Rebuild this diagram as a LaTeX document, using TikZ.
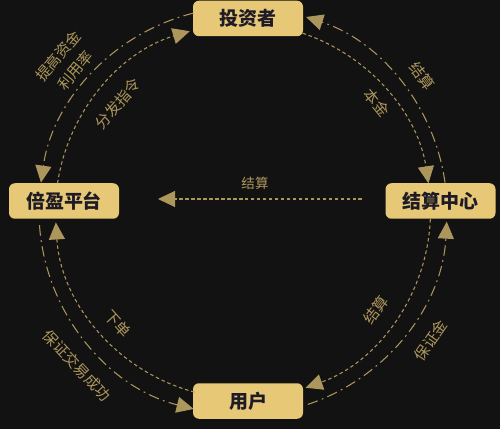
\documentclass[tikz,border=0pt]{standalone}
\usepackage{fontspec}
\newfontfamily\cjk{Noto Sans CJK SC}
\usetikzlibrary{arrows.meta}
\definecolor{bgdark}{HTML}{121212}
\definecolor{goldbox}{HTML}{E6C877}
\definecolor{goldline}{HTML}{AD965C}
\definecolor{inkdark}{HTML}{1E1B26}
\tikzset{
  box/.style={draw=none,fill=goldbox,rounded corners=3.4pt,minimum width=2.2cm,
    minimum height=0.71cm,inner sep=0pt,text=inkdark,
    font=\cjk\bfseries\fontsize{10.8}{13}\selectfont},
  lbl/.style={text=goldline,inner sep=0pt,align=center,
    font=\cjk\fontsize{8.6}{12.8}\selectfont},
  midlbl/.style={lbl,font=\cjk\fontsize{7.7}{10}\selectfont},
  tip/.style={-{Triangle[length=0.34cm,width=0.32cm]}},
  innerln/.style={tip,draw=goldline,fill=none,line width=0.6pt,
    dash pattern=on 2pt off 1.6pt},
  outerln/.style={tip,draw=goldline,fill=none,line width=0.6pt,
    dash pattern=on 6pt off 2.5pt on 1pt off 2.5pt},
  midln/.style={tip,draw=goldline,line width=0.6pt,dash pattern=on 2pt off 1.4pt}
}
\begin{document}
\begin{tikzpicture}
\fill[bgdark] (0,0) rectangle (10,8.58);
\useasboundingbox (0,0) rectangle (10,8.58);
\def\Ro{4.08}\def\Ri{3.75}
\coordinate (ctr) at (4.86,4.36);
% the four parties
\node[box] (investor) at (4.96,8.21) {投资者};
\node[box] (clearing) at (8.81,4.56) {结算中心};
\node[box] (platform) at (1.28,4.56) {倍盈平台};
\node[box] (user) at (4.96,0.56) {用户};
% start points on the two rings
\path (ctr) ++(104:\Ro) coordinate (inv-w)
      (ctr) ++(171.5:\Ri) coordinate (plat-n)
      (ctr) ++(71.5:\Ri) coordinate (inv-e)
      (ctr) ++(8:\Ro) coordinate (clr-n)
      (ctr) ++(-2.5:\Ri) coordinate (clr-s)
      (ctr) ++(-71.5:\Ro) coordinate (user-e)
      (ctr) ++(-105:\Ri) coordinate (user-w)
      (ctr) ++(184:\Ro) coordinate (plat-s);
% top left
\draw[outerln] (inv-w) arc[start angle=104,end angle=172,radius=\Ro];
\draw[innerln] (plat-n) arc[start angle=171.5,end angle=106.5,radius=\Ri];
% top right
\draw[innerln] (inv-e) arc[start angle=71.5,end angle=8.5,radius=\Ri];
\draw[outerln] (clr-n) arc[start angle=8,end angle=72,radius=\Ro];
% bottom right
\draw[innerln] (clr-s) arc[start angle=-2.5,end angle=-70.5,radius=\Ri];
\draw[outerln] (user-e) arc[start angle=-71.5,end angle=-3,radius=\Ro];
% bottom left
\draw[innerln] (user-w) arc[start angle=-105,end angle=-176.5,radius=\Ri];
\draw[outerln] (plat-s) arc[start angle=184,end angle=256,radius=\Ro];
% centre line
\coordinate (mid-r) at (7.24,4.6);
\coordinate (mid-l) at (3.16,4.6);
\draw[midln] (mid-r) -- (mid-l);
\node[midlbl] (lab-mid) at (5.1,4.92) {结算};
% labels
\path (ctr) ++(140:4.6) node[lbl,rotate=50] (lab-tl-o) {提高资金\\利用率};
\path (ctr) ++(139.4:3.3) node[lbl,rotate=49] (lab-tl-i) {分发指令};
\path (ctr) ++(39:3.44) node[lbl,rotate=-51] (lab-tr-i) {本金};
\path (ctr) ++(37:4.48) node[lbl,rotate=-53] (lab-tr-o) {结算};
\path (ctr) ++(-36.7:3.32) node[lbl,rotate=53] (lab-br-i) {结算};
\path (ctr) ++(-34.6:4.56) node[lbl,rotate=55] (lab-br-o) {保证金};
\path (ctr) ++(222:3.36) node[lbl,rotate=-48] (lab-bl-i) {下单};
\path (ctr) ++(223:4.54) node[lbl,rotate=-47] (lab-bl-o) {保证交易成功};
\end{tikzpicture}
\end{document}
